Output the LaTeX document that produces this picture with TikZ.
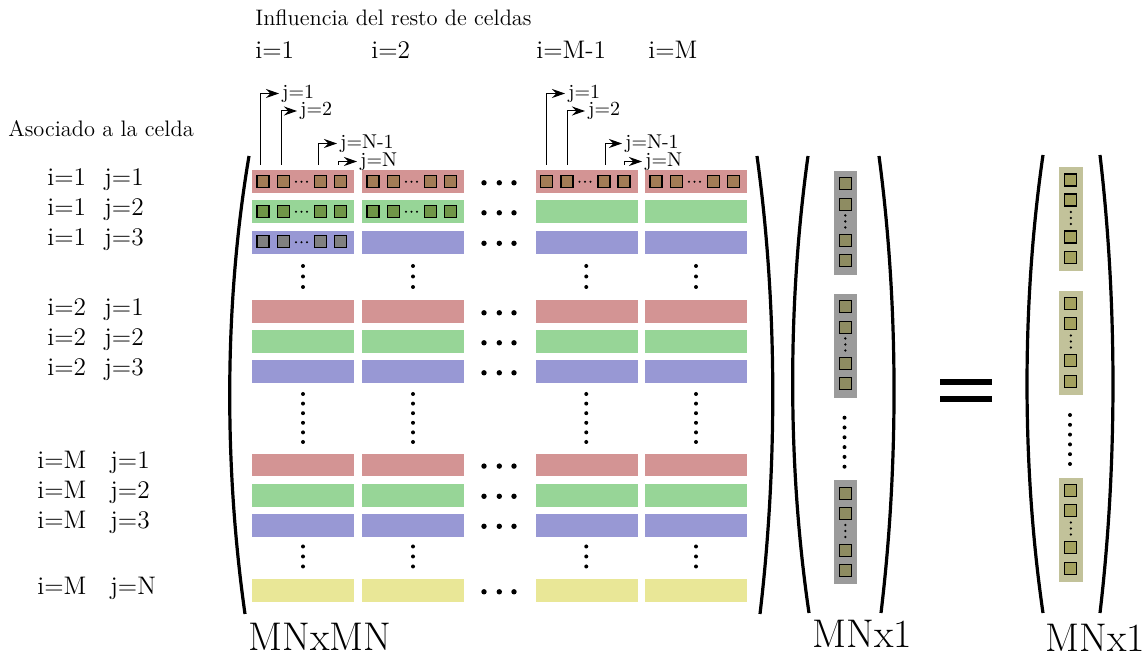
\documentclass[tikz,border=0pt]{standalone}
\usepackage{fontspec}
\usetikzlibrary{arrows.meta}

\definecolor{cellred}{RGB}{211,148,148}
\definecolor{cellgreen}{RGB}{151,213,151}
\definecolor{cellblue}{RGB}{152,152,212}
\definecolor{cellyellow}{RGB}{233,231,151}
\definecolor{sqbrown}{RGB}{163,124,86}
\definecolor{sqgreen}{RGB}{112,150,72}
\definecolor{sqgray}{RGB}{128,128,128}
\definecolor{vecgray}{RGB}{155,155,155}
\definecolor{vecsq}{RGB}{142,140,98}
\definecolor{ressand}{RGB}{194,194,154}
\definecolor{ressq}{RGB}{163,161,95}

\begin{document}
\begin{tikzpicture}[x=0.5pt,y=-0.5pt,
  cellbar/.style={draw=none,inner sep=0pt,minimum width=51pt,minimum height=11.35pt,anchor=north west},
  cellsq/.style={draw=black,line width=0.55pt,inner sep=0pt,minimum size=6pt},
  vecstrip/.style={draw=none,inner sep=0pt,minimum width=11.4pt,minimum height=52pt,anchor=north west},
  paren/.style={line width=1.6pt},
  idx/.style={font=\fontsize{12.7}{14}\selectfont,inner sep=0pt,anchor=base west},
  jtag/.style={font=\fontsize{10}{12}\selectfont,inner sep=1.5pt,anchor=west},
  note/.style={font=\fontsize{11.2}{13}\selectfont,inner sep=0pt,anchor=base west},
  dim/.style={font=\fontsize{20}{24}\selectfont,inner sep=0pt,anchor=base west},
  pointer/.style={line width=0.5pt,-{Stealth[length=6.5pt,width=4.5pt]}},
]
\useasboundingbox (0,0) rectangle (1148,657);

% headings
\node[note] (hdr) at (255,25.5) {Influencia del resto de celdas};
\node[note] (side) at (8,137) {Asociado a la celda};
\node[idx] (ti1) at (255,59) {i=1};
\node[idx] (ti2) at (371,59) {i=2};
\node[idx] (ti3) at (536,59) {i=M-1};
\node[idx] (ti4) at (648,59) {i=M};

% row blocks of the MN x MN matrix, with horizontal ellipses
\foreach \r/\t/\c in {1/170/cellred,2/200/cellgreen,3/230.5/cellblue,
                      4/300/cellred,5/330/cellgreen,6/360/cellblue,
                      7/453.3/cellred,8/483.5/cellgreen,9/513.5/cellblue,
                      10/579/cellyellow}{
  \foreach \k/\x in {1/252,2/362,3/535.5,4/645}
    \node[cellbar,fill=\c] (blk\r-\k) at (\x,\t) {};
  \foreach \dx in {484,499.3,514}
    \fill (\dx,\t+12.8) circle (1.35pt);
}

% coefficient squares inside the first rows
\foreach \r/\t/\c/\cols in {1/170/sqbrown/{252,362,535.5,645},
                            2/200/sqgreen/{252,362},
                            3/230.5/sqgray/{252}}{
  \foreach \x [count=\k] in \cols {
    \foreach \o [count=\m] in {11,31.5,68.5,88.5}
      \node[cellsq,fill=\c] (sq\r-\k-\m) at (\x+\o,\t+11.35) {};
    \foreach \o in {44,49.5,55}
      \fill (\x+\o,\t+11.8) circle (0.55pt);
  }
}

% vertical ellipses in the matrix columns
\foreach \cx in {303,413,586.25,696}{
  \foreach \dy in {266,276.5,287} \fill (\cx,\dy) circle (1pt);
  \foreach \dy in {394,403.6,413.2,422.8,432.4,442} \fill (\cx,\dy) circle (1pt);
  \foreach \dy in {546.5,556.5,566.5} \fill (\cx,\dy) circle (1pt);
}

% row labels
\foreach \n/\b/\ia/\ja/\ix/\jx in {1/185.35/1/1/47/104, 2/215.35/1/2/47/104,
      3/245.85/1/3/47/104, 4/315.35/2/1/47/104, 5/345.35/2/2/47/104,
      6/375.35/2/3/47/104, 7/468.65/M/1/37/110, 8/498.85/M/2/37/110,
      9/528.85/M/3/37/110, 10/594.35/M/N/37/110}{
  \node[idx] (ri\n) at (\ix,\b) {i=\ia};
  \node[idx] (rj\n) at (\jx,\b) {j=\ja};
}

% pointers from the first block of i=1
\node[jtag] (a1) at (279,93.5) {j=1};
\node[jtag] (a2) at (297,111) {j=2};
\node[jtag] (a3) at (337,143.5) {j=N-1};
\node[jtag] (a4) at (357,161.5) {j=N};
\coordinate (a1s) at (260.7,165);
\coordinate (a2s) at (281.7,165);
\coordinate (a3s) at (318.7,165);
\coordinate (a4s) at (338.7,165);
\foreach \i in {1,...,4} \draw[pointer] (a\i s) |- (a\i.west);

% pointers from the block of i=M-1
\node[jtag] (c1) at (565,93.5) {j=1};
\node[jtag] (c2) at (585,111) {j=2};
\node[jtag] (c3) at (622,143.5) {j=N-1};
\node[jtag] (c4) at (642,161.5) {j=N};
\coordinate (c1s) at (546,165);
\coordinate (c2s) at (567.7,165);
\coordinate (c3s) at (605,165);
\coordinate (c4s) at (624,165);
\foreach \i in {1,...,4} \draw[pointer] (c\i s) |- (c\i.west);

% matrix brackets
\draw[paren] (249,156) .. controls (224,304) and (224,466) .. (245,614);
\draw[paren] (757,156) .. controls (777.5,304) and (777.5,466) .. (760,614);

% unknown vector
\foreach \g/\t in {1/170.5,2/293.5,3/480}{
  \node[vecstrip,fill=vecgray] (vx\g) at (834,\t) {};
  \foreach \o [count=\m] in {13.3,33.7,70.3,90.3}
    \node[cellsq,fill=vecsq] (vxs\g-\m) at (845.3,\t+\o) {};
  \foreach \o in {45,51,57} \fill (845.3,\t+\o) circle (0.65pt);
}
\foreach \dy in {417.7,427.5,437.3,447.1,456.9,466.7} \fill (844.5,\dy) circle (1pt);
\draw[paren] (808,156) .. controls (787.4,304) and (787.4,466) .. (809,613);
\draw[paren] (879,156) .. controls (898.7,304) and (898.7,466) .. (881,613);

% equals sign
\fill (940,379) rectangle (992,385);
\fill (940,396) rectangle (992,402);

% right-hand side vector
\foreach \g/\t in {1/167,2/290.5,3/477.5}{
  \node[vecstrip,fill=ressand,minimum width=11.65pt] (rh\g) at (1059,\t) {};
  \foreach \o [count=\m] in {13,33,70,90.7}
    \node[cellsq,fill=ressq] (rhs\g-\m) at (1070.8,\t+\o) {};
  \foreach \o in {45,51,57} \fill (1070.8,\t+\o) circle (0.65pt);
}
\foreach \dy in {415,424.8,434.6,444.4,454.2,464} \fill (1070,\dy) circle (1pt);
\draw[paren] (1043,155) .. controls (1021.7,302) and (1021.7,466) .. (1043,613);
\draw[paren] (1100,155) .. controls (1117.3,302) and (1117.3,466) .. (1100,613);

% dimensions
\node[dim] (dmat) at (248,651) {MNxMN};
\node[dim] (dvec) at (812,648) {MNx1};
\node[dim] (dres) at (1045,652) {MNx1};
\end{tikzpicture}
\end{document}
